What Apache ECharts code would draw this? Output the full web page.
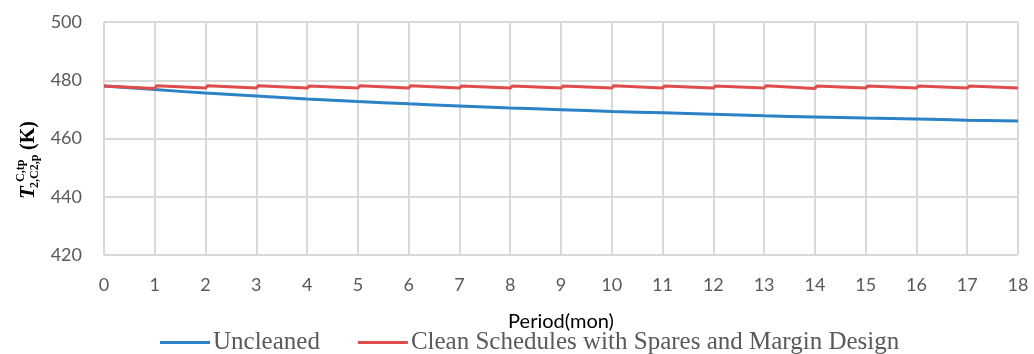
<!DOCTYPE html>
<html>
<head>
<meta charset="utf-8">
<script src="https://cdn.jsdelivr.net/npm/echarts@6/dist/echarts.min.js"></script>
<style>
  html, body { margin: 0; padding: 0; background: #fff; }
  #chart { width: 1034px; height: 354px; }
</style>
</head>
<body>
<div id="chart"></div>
<script>
// months on the x axis
var months = [0, 1, 2, 3, 4, 5, 6, 7, 8, 9, 10, 11, 12, 13, 14, 15, 16, 17, 18];
// uncleaned temperature at each month (K)
var uncleaned = [478.0, 476.8, 475.6, 474.6, 473.6, 472.7, 471.9, 471.2, 470.5, 469.9,
                 469.3, 468.8, 468.3, 467.8, 467.4, 467.0, 466.7, 466.3, 466.0];
// cleaned schedule: value right after each cleaning, and just before the next one
var cleanPeak   = [478.0, 478.1, 478.1, 478.1, 478.0, 478.1, 478.1, 478.0, 478.0,
                   478.0, 478.1, 478.0, 478.0, 478.1, 478.0, 478.0, 478.0, 478.0];
var cleanTrough = [477.2, 477.3, 477.3, 477.3, 477.3, 477.3, 477.3, 477.3, 477.3,
                   477.3, 477.3, 477.3, 477.3, 477.2, 477.3, 477.3, 477.3, 477.3];
var seriesNames = ['Uncleaned', 'Clean Schedules with Spares and Margin Design'];

var chart = echarts.init(document.getElementById('chart'));

var blueData = months.map(function (m, i) { return [m, uncleaned[i]]; });
var redData = [];
for (var i = 0; i < cleanPeak.length; i++) {
    redData.push([i === 0 ? 0 : i + 0.04, cleanPeak[i]]);
    redData.push([i + 1, cleanTrough[i]]);
}

var axisFont = 'Lato, "Open Sans", sans-serif';
var serif = '"Liberation Serif", "DejaVu Serif", serif';

chart.setOption({
    animation: false,
    grid: { left: 104, right: 16, top: 22, bottom: 99 },
    legend: {
        top: 325,
        left: 155,
        itemWidth: 50,
        itemHeight: 3,
        itemGap: 38,
        icon: 'rect',
        textStyle: { fontFamily: serif, fontSize: 25, color: '#595959', padding: [0, 0, 0, -2] },
        data: seriesNames
    },
    xAxis: {
        type: 'value',
        min: 0, max: 18, interval: 1,
        name: 'Period(mon)',
        nameLocation: 'middle',
        nameGap: 57,
        nameTextStyle: { fontFamily: axisFont, fontSize: 20, color: '#000' },
        axisLine: { show: false },
        axisTick: { show: false },
        axisLabel: { fontFamily: axisFont, fontSize: 18, color: '#595959', margin: 21 },
        splitLine: { show: true, lineStyle: { color: '#d9d9d9', width: 2 } }
    },
    yAxis: {
        type: 'value',
        min: 420, max: 500, interval: 20,
        axisLine: { show: false },
        axisTick: { show: false },
        axisLabel: { fontFamily: axisFont, fontSize: 18, color: '#595959', margin: 22 },
        splitLine: { show: true, lineStyle: { color: '#d9d9d9', width: 2 } }
    },
    graphic: [{
        type: 'group',
        x: 29, y: 199,
        rotation: Math.PI / 2,
        children: [
            { type: 'text', x: 0, y: 0, style: { text: 'T', font: 'italic bold 21px ' + serif, fill: '#000', verticalAlign: 'middle' } },
            { type: 'text', x: 17, y: -8, style: { text: 'C,tp', font: 'bold 12px ' + serif, fill: '#000', verticalAlign: 'middle' } },
            { type: 'text', x: 11, y: 6, style: { text: '2,C2,p', font: 'bold 12px ' + serif, fill: '#000', verticalAlign: 'middle' } },
            { type: 'text', x: 49, y: 0, style: { text: '(K)', font: 'bold 20px ' + serif, fill: '#000', verticalAlign: 'middle' } }
        ]
    }],
    series: [{
        name: seriesNames[0],
        type: 'line',
        data: blueData,
        smooth: true,
        showSymbol: false,
        lineStyle: { color: '#2b83c6', width: 3 },
        itemStyle: { color: '#2b83c6' }
    }, {
        name: seriesNames[1],
        type: 'line',
        data: redData,
        showSymbol: false,
        lineStyle: { color: '#e04b4b', width: 3 },
        itemStyle: { color: '#e04b4b' }
    }]
});
</script>
</body>
</html>
